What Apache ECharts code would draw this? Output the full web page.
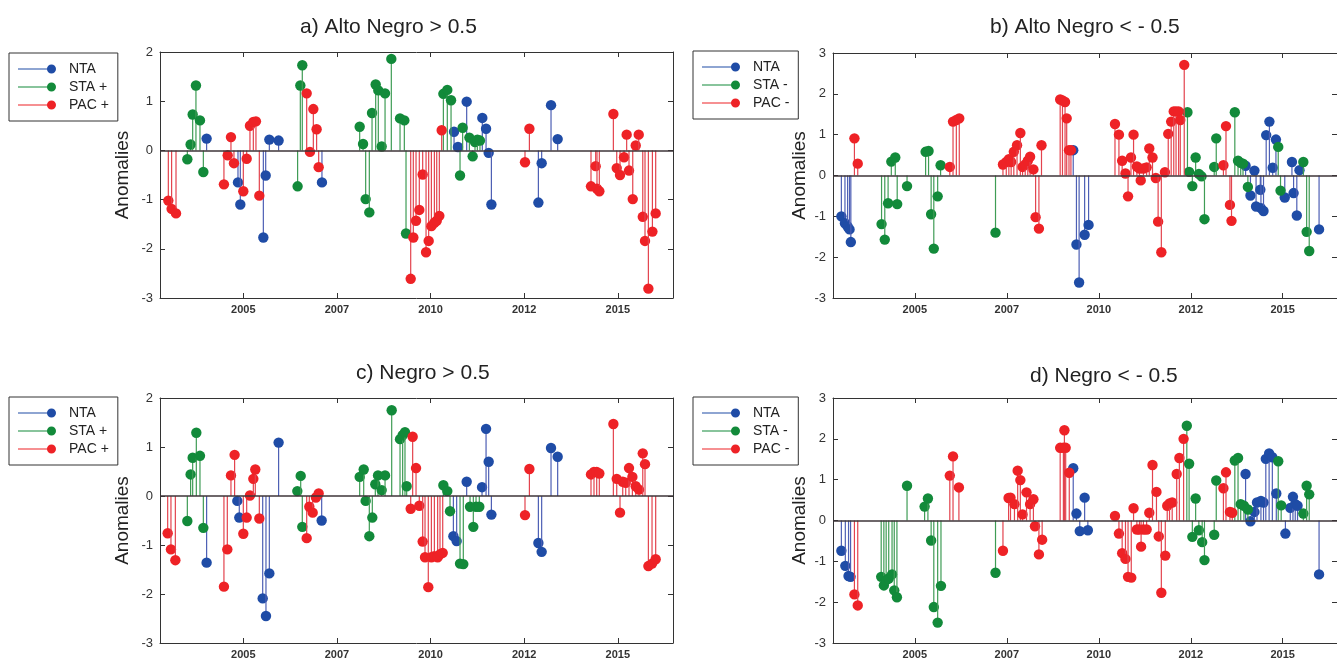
<!DOCTYPE html>
<html><head><meta charset="utf-8">
<script src="https://cdn.jsdelivr.net/npm/echarts@6/dist/echarts.min.js"></script>
<style>html,body{margin:0;padding:0;background:#fff}#c{width:1337px;height:661px}</style>
</head><body><div id="c"></div><script>
// x values: position along the record (tick 2005 = 0, 2007 = 10, 2010 = 20, 2012 = 30, 2015 = 40)
const xTickValues = [0, 10, 20, 30, 40];
const xTickLabels = ['2005', '2007', '2010', '2012', '2015'];
const xMin = -8.9, xMax = 45.9;

const titles = ['a) Alto Negro > 0.5', 'b) Alto Negro < - 0.5', 'c) Negro > 0.5', 'd) Negro < - 0.5'];
const legendPos = ['NTA', 'STA +', 'PAC +'];
const legendNeg = ['NTA', 'STA -', 'PAC -'];

// Panel a
const ntaA = [[-3.92,0.24],[-0.57,-0.65],[-0.32,-1.10],[2.14,-1.77],[2.39,-0.51],[2.78,0.22],[3.77,0.20],[8.40,-0.65],[22.51,0.38],[22.93,0.07],[23.86,0.99],[25.53,0.66],[25.93,0.44],[26.21,-0.05],[26.50,-1.10],[31.52,-1.06],[31.87,-0.26],[32.87,0.92],[33.58,0.23]];
const staA = [[-5.98,-0.18],[-5.63,0.12],[-5.41,0.73],[-5.06,1.32],[-4.63,0.61],[-4.27,-0.44],[5.80,-0.73],[6.09,1.32],[6.30,1.73],[12.43,0.48],[12.79,0.13],[13.07,-0.99],[13.46,-1.26],[13.75,0.76],[14.14,1.34],[14.42,1.22],[14.78,0.08],[15.14,1.16],[15.81,1.86],[16.74,0.65],[17.20,0.61],[17.38,-1.69],[21.37,1.15],[21.79,1.23],[22.19,1.02],[23.15,-0.51],[23.43,0.46],[24.15,0.26],[24.50,-0.12],[24.75,0.17],[25.00,0.22],[25.28,0.20]];
const pacA = [[-8.01,-1.02],[-7.66,-1.19],[-7.19,-1.28],[-2.07,-0.69],[-1.67,-0.10],[-1.32,0.27],[-1.00,-0.26],[0.00,-0.83],[0.36,-0.17],[0.71,0.50],[1.07,0.58],[1.35,0.59],[1.71,-0.92],[6.77,1.16],[7.12,-0.03],[7.48,0.84],[7.83,0.43],[8.05,-0.34],[17.88,-2.61],[18.16,-1.77],[18.45,-1.43],[18.80,-1.21],[19.16,-0.49],[19.52,-2.07],[19.80,-1.84],[20.09,-1.54],[20.41,-1.47],[20.66,-1.43],[20.94,-1.33],[21.19,0.41],[30.09,-0.24],[30.56,0.44],[37.14,-0.73],[37.64,-0.32],[37.78,-0.78],[38.03,-0.83],[39.53,0.74],[39.89,-0.36],[40.24,-0.50],[40.67,-0.14],[40.95,0.32],[41.20,-0.41],[41.60,-0.99],[41.92,0.10],[42.24,0.32],[42.67,-1.35],[42.91,-1.84],[43.27,-2.81],[43.70,-1.65],[44.05,-1.28]];

// Panel b
const ntaB = [[-7.99,-1.00],[-7.60,-1.17],[-7.31,-1.25],[-7.10,-1.32],[-6.96,-1.63],[17.22,0.62],[17.57,-1.69],[17.86,-2.62],[18.46,-1.45],[18.89,-1.21],[35.96,0.24],[36.49,-0.49],[36.92,0.12],[37.10,-0.76],[37.56,-0.35],[37.63,-0.80],[37.91,-0.87],[38.20,0.99],[38.55,1.32],[38.91,0.19],[39.26,0.88],[40.22,-0.54],[41.00,0.33],[41.18,-0.43],[41.53,-0.98],[41.82,0.13],[43.95,-1.32]];
const staB = [[-3.62,-1.19],[-3.27,-1.57],[-2.91,-0.68],[-2.56,0.34],[-2.13,0.44],[-1.92,-0.70],[-0.85,-0.26],[1.17,0.58],[1.49,0.60],[1.77,-0.95],[2.06,-1.79],[2.48,-0.51],[2.80,0.25],[8.77,-1.40],[29.64,1.55],[29.82,0.09],[30.17,-0.26],[30.53,0.44],[30.88,0.04],[31.17,-0.02],[31.49,-1.07],[32.55,0.21],[32.77,0.91],[34.79,1.55],[35.14,0.36],[35.43,0.31],[35.68,0.29],[36.21,-0.28],[39.51,0.70],[39.76,-0.37],[42.24,0.33],[42.60,-1.38],[42.88,-1.85]];
const pacB = [[-6.57,0.91],[-6.21,0.29],[3.80,0.21],[4.15,1.32],[4.51,1.36],[4.83,1.40],[9.58,0.27],[9.94,0.33],[10.22,0.40],[10.47,0.33],[10.76,0.58],[11.11,0.74],[11.47,1.04],[11.71,0.21],[12.00,0.27],[12.28,0.36],[12.53,0.46],[12.89,0.15],[13.13,-1.02],[13.49,-1.30],[13.77,0.74],[15.80,1.86],[16.05,1.84],[16.33,1.80],[16.51,1.40],[16.76,0.62],[16.97,0.62],[21.76,1.26],[22.19,1.00],[22.54,0.36],[22.90,0.05],[23.18,-0.51],[23.50,0.44],[23.78,1.00],[24.14,0.22],[24.42,0.17],[24.56,-0.12],[24.85,0.17],[25.20,0.20],[25.49,0.66],[25.84,0.44],[26.20,-0.06],[26.45,-1.13],[26.80,-1.88],[27.19,0.08],[27.55,1.02],[27.87,1.32],[28.15,1.57],[28.40,1.57],[28.68,1.57],[28.86,1.36],[29.29,2.71],[33.55,0.25],[33.83,1.21],[34.26,-0.72],[34.43,-1.11]];

// Panel c
const ntaC = [[-3.92,-1.36],[-0.64,-0.10],[-0.43,-0.44],[2.07,-2.09],[2.42,-2.45],[2.78,-1.58],[3.77,1.09],[8.37,-0.50],[22.44,-0.82],[22.79,-0.92],[23.86,0.29],[25.50,0.18],[25.93,1.37],[26.21,0.70],[26.50,-0.38],[31.52,-0.96],[31.87,-1.14],[32.87,0.98],[33.58,0.80]];
const staC = [[-5.98,-0.51],[-5.63,0.44],[-5.41,0.78],[-5.02,1.29],[-4.63,0.82],[-4.27,-0.65],[5.77,0.10],[6.13,0.41],[6.30,-0.63],[12.43,0.39],[12.86,0.54],[13.07,-0.10],[13.46,-0.82],[13.78,-0.44],[14.10,0.24],[14.39,0.42],[14.78,0.12],[15.14,0.42],[15.85,1.75],[16.74,1.16],[17.02,1.24],[17.27,1.30],[17.45,0.20],[21.37,0.22],[21.79,0.10],[22.08,-0.31],[23.15,-1.38],[23.50,-1.39],[24.22,-0.22],[24.57,-0.63],[24.86,-0.22],[25.21,-0.22]];
const pacC = [[-8.08,-0.76],[-7.73,-1.09],[-7.26,-1.31],[-2.07,-1.85],[-1.71,-1.09],[-1.32,0.42],[-0.93,0.84],[0.00,-0.77],[0.36,-0.44],[0.71,0.01],[1.07,0.35],[1.28,0.54],[1.71,-0.46],[6.77,-0.86],[7.05,-0.22],[7.41,-0.34],[7.76,-0.03],[8.05,0.05],[17.88,-0.26],[18.09,1.21],[18.45,0.57],[18.80,-0.20],[19.16,-0.93],[19.41,-1.25],[19.76,-1.86],[20.09,-1.25],[20.41,-1.23],[20.76,-1.25],[21.01,-1.19],[21.30,-1.16],[30.09,-0.39],[30.56,0.55],[37.14,0.44],[37.46,0.49],[37.75,0.49],[38.03,0.46],[39.53,1.47],[39.89,0.35],[40.24,-0.34],[40.53,0.29],[40.85,0.27],[41.20,0.57],[41.56,0.39],[41.92,0.20],[42.27,0.13],[42.67,0.87],[42.91,0.65],[43.27,-1.43],[43.66,-1.38],[44.05,-1.29]];

// Panel d
const ntaD = [[-7.99,-0.74],[-7.56,-1.11],[-7.21,-1.36],[-6.99,-1.38],[17.22,1.28],[17.57,0.17],[17.93,-0.26],[18.46,0.56],[18.81,-0.24],[35.96,1.14],[36.49,-0.02],[36.92,0.21],[37.20,0.44],[37.63,0.48],[37.91,0.44],[38.16,1.51],[38.52,1.64],[38.87,1.55],[39.30,0.66],[40.29,-0.32],[40.82,0.31],[41.11,0.58],[41.36,0.40],[41.61,0.36],[43.95,-1.32]];
const staD = [[-3.66,-1.38],[-3.37,-1.59],[-3.12,-1.46],[-2.84,-1.42],[-2.48,-1.32],[-2.24,-1.71],[-1.95,-1.88],[-0.85,0.85],[1.06,0.34],[1.42,0.54],[1.77,-0.49],[2.06,-2.12],[2.48,-2.50],[2.84,-1.60],[8.77,-1.28],[29.57,2.32],[29.82,1.39],[30.17,-0.40],[30.53,0.54],[30.88,-0.24],[31.24,-0.53],[31.49,-0.97],[32.55,-0.35],[32.77,0.98],[34.79,1.47],[35.14,1.53],[35.43,0.40],[35.78,0.36],[36.21,0.27],[39.51,1.45],[39.83,0.37],[42.24,0.17],[42.60,0.85],[42.88,0.64]];
const pacD = [[-6.57,-1.81],[-6.21,-2.08],[3.80,1.10],[4.15,1.57],[4.79,0.81],[9.58,-0.74],[10.19,0.55],[10.40,0.56],[10.83,0.40],[11.18,1.22],[11.47,0.99],[11.71,0.15],[12.14,0.69],[12.53,0.40],[12.89,0.52],[13.06,-0.14],[13.49,-0.83],[13.84,-0.47],[15.80,1.78],[16.15,1.78],[16.26,2.21],[16.40,1.78],[16.79,1.17],[21.76,0.11],[22.19,-0.32],[22.54,-0.80],[22.90,-0.94],[23.18,-1.38],[23.53,-1.40],[23.78,0.30],[24.14,-0.22],[24.42,-0.22],[24.60,-0.64],[24.85,-0.22],[25.20,-0.22],[25.49,0.19],[25.84,1.36],[26.27,0.70],[26.52,-0.39],[26.80,-1.77],[27.23,-0.86],[27.44,0.36],[27.69,0.42],[27.98,0.44],[28.47,1.14],[28.76,1.53],[29.22,2.00],[33.55,0.79],[33.83,1.18],[34.26,0.21],[34.51,0.19]];

const FONT = 'Arial, "Liberation Sans", sans-serif';
const AX = '#333';
const COLORS = {
  nta: {dot: '#1f4ca6', line: '#4d5fb4'},
  sta: {dot: '#128a3a', line: '#3f9c55'},
  pac: {dot: '#ee2226', line: '#e3434e'}
};

const panels = [
  {grid: {left: 160, top: 52, width: 513, height: 246}, yMin: -3, yMax: 2, names: legendPos, data: [ntaA, staA, pacA], nameGap: 28,
   title: {left: 300, top: 17}, legend: {left: 9, top: 53}},
  {grid: {left: 833, top: 53, width: 515, height: 245}, yMin: -3, yMax: 3, names: legendNeg, data: [ntaB, staB, pacB], nameGap: 24,
   title: {left: 990, top: 17}, legend: {left: 693, top: 51}},
  {grid: {left: 160, top: 398, width: 513, height: 245}, yMin: -3, yMax: 2, names: legendPos, data: [ntaC, staC, pacC], nameGap: 28,
   title: {left: 356, top: 363}, legend: {left: 9, top: 397}},
  {grid: {left: 833, top: 398, width: 515, height: 245}, yMin: -3, yMax: 3, names: legendNeg, data: [ntaD, staD, pacD], nameGap: 24,
   title: {left: 1030, top: 366}, legend: {left: 693, top: 397}}
];

function makeRender(col) {
  return function (params, api) {
    const x = api.value(0), y = api.value(1);
    const p0 = api.coord([x, 0]);
    const p1 = api.coord([x, y]);
    return {
      type: 'group',
      children: [
        {type: 'line', shape: {x1: p0[0], y1: p0[1], x2: p1[0], y2: p1[1]}, style: {stroke: col.line, lineWidth: 1.2}},
        {type: 'circle', shape: {cx: p1[0], cy: p1[1], r: 5.2}, style: {fill: col.dot, stroke: null}}
      ]
    };
  };
}

const legendIcon = 'path://M0,4.4L33,4.4L33,5.6L0,5.6Z M32,5A5,5 0 1 1 42,5A5,5 0 1 1 32,5Z';

const option = {
  animation: false,
  backgroundColor: '#fff',
  title: [], grid: [], xAxis: [], yAxis: [], series: [], legend: []
};

panels.forEach((p, i) => {
  option.title.push({text: titles[i], left: p.title.left, top: p.title.top, padding: 0,
    textStyle: {fontSize: 21, fontWeight: 'normal', color: '#222', fontFamily: FONT}});
  option.grid.push(Object.assign({containLabel: false}, p.grid));
  const tickCommon = {show: true, inside: true, length: 5, customValues: xTickValues, lineStyle: {color: AX}};
  option.xAxis.push({
    type: 'value', gridIndex: i, min: xMin, max: xMax, position: 'bottom',
    axisLine: {show: true, onZero: false, lineStyle: {color: AX, width: 1}},
    axisTick: tickCommon,
    axisLabel: {show: true, customValues: xTickValues, margin: 6, fontSize: 11, fontWeight: 'bold', color: '#333', fontFamily: FONT,
      formatter: v => xTickLabels[xTickValues.indexOf(Math.round(v))] || ''},
    splitLine: {show: false}
  });
  option.xAxis.push({
    type: 'value', gridIndex: i, min: xMin, max: xMax, position: 'top',
    axisLine: {show: true, onZero: false, lineStyle: {color: AX, width: 1}},
    axisTick: tickCommon, axisLabel: {show: false}, splitLine: {show: false}
  });
  option.yAxis.push({
    type: 'value', gridIndex: i, min: p.yMin, max: p.yMax, interval: 1, position: 'left',
    name: 'Anomalies', nameLocation: 'middle', nameGap: p.nameGap,
    nameTextStyle: {fontSize: 19, color: '#222', fontFamily: FONT},
    axisLine: {show: true, onZero: false, lineStyle: {color: AX, width: 1}},
    axisTick: {show: true, inside: true, length: 5, lineStyle: {color: AX}},
    axisLabel: {margin: 7, fontSize: 13, color: '#333', fontFamily: FONT},
    splitLine: {show: false}
  });
  option.yAxis.push({
    type: 'value', gridIndex: i, min: p.yMin, max: p.yMax, interval: 1, position: 'right',
    axisLine: {show: true, onZero: false, lineStyle: {color: AX, width: 1}},
    axisTick: {show: true, inside: true, length: 5, lineStyle: {color: AX}},
    axisLabel: {show: false}, splitLine: {show: false}
  });
  const cols = [COLORS.nta, COLORS.sta, COLORS.pac];
  p.data.forEach((d, k) => {
    const s = {
      type: 'custom', name: p.names[k], xAxisIndex: 2 * i, yAxisIndex: 2 * i,
      data: d, renderItem: makeRender(cols[k]), itemStyle: {color: cols[k].dot},
      encode: {x: 0, y: 1}, z: 2 + k
    };
    if (k === 0) {
      s.markLine = {silent: true, symbol: 'none', label: {show: false}, animation: false,
        lineStyle: {color: '#3e3438', width: 1.5, type: 'solid'}, data: [{yAxis: 0}], z: 10};
    }
    option.series.push(s);
  });
  option.legend.push({
    orient: 'vertical', left: p.legend.left, top: p.legend.top,
    data: p.names.map(n => ({name: n, icon: legendIcon})),
    itemWidth: 38, itemHeight: 10, itemGap: 2,
    padding: [8, 9, 8, 9], borderColor: '#333', borderWidth: 1, borderRadius: 0,
    textStyle: {fontSize: 14, color: '#222', fontFamily: FONT, lineHeight: 16, padding: [0, 0, 0, 8]}
  });
});

const chart = echarts.init(document.getElementById('c'), null, {renderer: 'canvas'});
chart.setOption(option);
</script></body></html>
